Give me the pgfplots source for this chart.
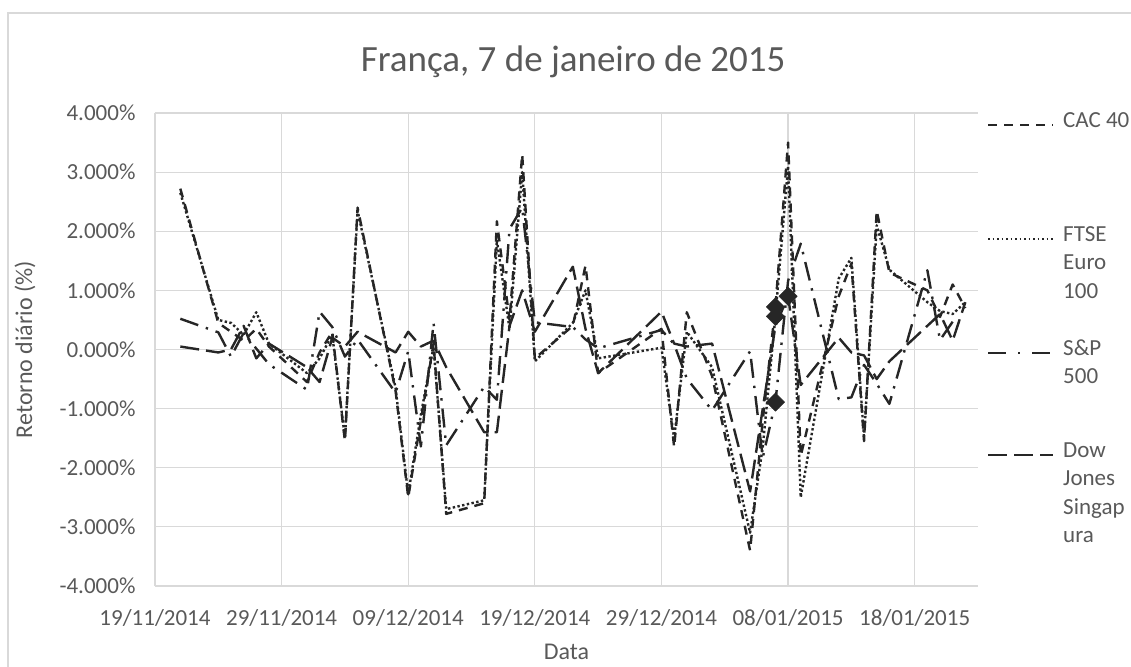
\documentclass[border=0pt]{standalone}
\usepackage{fontspec}
\setmainfont{Carlito}
\usepackage{pgfplots}
\usepackage{pgfplotstable}
\usetikzlibrary{calc}
\pgfplotsset{compat=1.18}
\definecolor{txt}{HTML}{595959}
\definecolor{grd}{HTML}{D9D9D9}
\definecolor{ln}{HTML}{262626}

\pgfplotstableread{
d cac ftse sp dj
2 2.72 2.65 0.52 0.05
5 0.45 0.50 0.29 -0.05
6 0.30 0.45 -0.12 0.00
7 0.15 0.25 0.28 0.40
8 0.35 0.63 nan -0.15
9 0.05 0.10 -0.25 0.10
12 -0.55 -0.40 -0.68 -0.30
13 -0.05 -0.15 0.64 -0.55
14 0.30 0.25 0.38 0.20
15 -1.55 -1.50 -0.12 0.05
16 2.40 2.35 0.17 0.30
19 -0.70 -0.65 -0.73 -0.05
20 -2.50 -2.45 -0.03 0.30
21 -1.20 -1.10 -1.64 0.05
22 0.10 0.05 0.45 0.15
23 -2.78 -2.70 -1.62 -0.30
26 -2.60 -2.55 -0.63 -1.40
27 2.17 1.85 -0.85 -1.40
28 0.50 0.35 2.04 0.40
29 3.30 3.00 2.40 1.00
30 -0.15 -0.20 0.46 0.30
33 0.40 0.45 0.38 1.40
34 1.42 1.00 0.17 0.35
35 -0.40 -0.15 0.02 -0.40
40 0.35 0.03 0.33 0.64
41 -1.65 -1.50 0.09 0.10
42 0.63 0.30 -0.49 0.05
44 -0.45 -0.30 -1.03 0.10
47 -3.40 -3.10 -0.03 -2.40
48 -1.20 -1.65 -1.83 -1.00
49 0.72 0.56 -0.89 0.40
50 3.50 3.10 1.16 0.90
51 -1.80 -2.50 1.79 -0.60
54 0.90 1.20 -0.84 0.20
55 1.45 1.55 -0.81 -0.05
56 -1.55 -1.50 -0.26 -0.10
57 2.35 2.10 -0.58 -0.50
58 1.30 1.35 -0.92 -0.20
61 1.00 0.80 1.34 0.40
62 0.55 0.65 0.16 0.60
63 1.10 0.60 0.47 0.15
64 0.70 0.80 nan 0.80
}\data

\begin{document}
\begin{tikzpicture}[x=1pt,y=1pt]
\begin{axis}[name=ax, at={(0,0)}, anchor=south west, scale only axis,
  width=823pt, height=473pt,
  xmin=0, xmax=65, ymin=-4, ymax=4,
  xtick={0,10,...,60},
  xticklabels={19/11/2014,29/11/2014,09/12/2014,19/12/2014,29/12/2014,08/01/2015,18/01/2015},
  ytick={-4,-3,...,4},
  yticklabels={-4.000\%,-3.000\%,-2.000\%,-1.000\%,0.000\%,1.000\%,2.000\%,3.000\%,4.000\%},
  grid=major, major grid style={grd, line width=1.2pt},
  axis line style={draw=none}, major tick length=0pt,
  tick label style={font=\fontsize{23}{28}\selectfont, text=txt},
  xticklabel style={yshift=-20pt},
  yticklabel style={xshift=-16pt},
  title={França, 7 de janeiro de 2015},
  title style={font=\fontsize{37}{44}\selectfont, text=txt, at={(axis description cs:0.508,1.095)}, anchor=center},
  xlabel={Data},
  xlabel style={font=\fontsize{24}{29}\selectfont, text=txt, at={(axis description cs:0.5,0)}, anchor=center, yshift=-66pt},
  ylabel={Retorno diário (\%)},
  ylabel style={font=\fontsize{24}{29}\selectfont, text=txt, at={(axis description cs:-0.158,0.5)}, anchor=center},
  every axis plot/.append style={line join=round},
]
\addplot[ln, line width=2.4pt, dash pattern=on 9pt off 7pt] table[x=d,y=cac]{\data};
\addplot[ln, line width=2.4pt, dash pattern=on 2.4pt off 2.4pt] table[x=d,y=ftse]{\data};
\addplot[ln, line width=2.4pt, dash pattern=on 19pt off 8pt on 2.4pt off 8pt] table[x=d,y=sp]{\data};
\addplot[ln, line width=2.4pt, dash pattern=on 19pt off 7pt] table[x=d,y=dj]{\data};
\addplot[only marks, mark=square*, mark size=6.5pt, mark options={rotate=45, fill=ln, draw=ln, solid}] coordinates {(49,0.72) (49,0.56) (49,-0.89) (50,0.90)};
\end{axis}
\begin{scope}[shift={(ax.south west)}, shift={(-155,-80)}]
\draw[grd, line width=1.2pt] (8,-5) -- (8,653) -- (1140,653);
% legend
\draw[ln, line width=2.4pt, dash pattern=on 9pt off 7pt] (988,541) -- (1053,541);
\draw[ln, line width=1.8pt, dash pattern=on 1.8pt off 2.7pt] (988,427) -- (1053,427);
\draw[ln, line width=2.4pt, dash pattern=on 18pt off 12pt on 2.4pt off 12pt] (988,313) -- (1053,313);
\draw[ln, line width=2.4pt, dash pattern=on 19pt off 7pt] (988,211) -- (1053,211);
\begin{scope}[every node/.style={anchor=mid west, inner sep=0pt, font=\fontsize{23}{28}\selectfont, text=txt}]
\node at (1063,541) {CAC 40};
\node at (1063,427) {FTSE};
\node at (1063,398.5) {Euro};
\node at (1063,370) {100};
\node at (1063,313) {S\&P};
\node at (1063,284.5) {500};
\node at (1063,211) {Dow};
\node at (1063,182.5) {Jones};
\node at (1063,154) {Singap};
\node at (1063,125.5) {ura};
\end{scope}
\end{scope}
\pgfresetboundingbox
\path[use as bounding box] ($(ax.south west)+(-155,-80)$) rectangle ++(1131,666);
\end{tikzpicture}
\end{document}
